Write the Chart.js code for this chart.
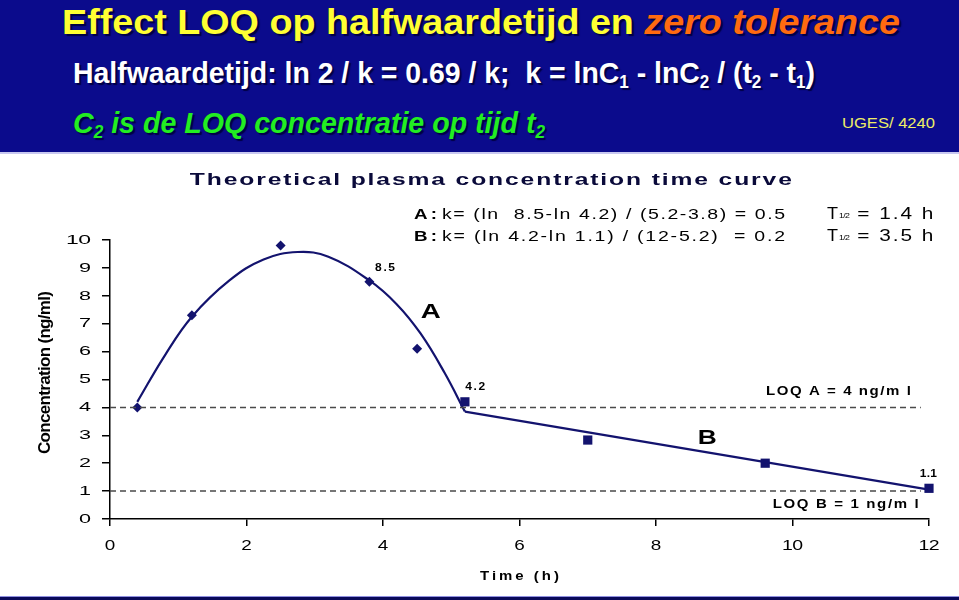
<!DOCTYPE html>
<html>
<head>
<meta charset="utf-8">
<script src="https://cdn.jsdelivr.net/npm/chart.js@4.4.0/dist/chart.umd.min.js"></script>
<style>
  html, body { margin:0; padding:0; background:#ffffff; }
  #wrap { position:relative; width:959px; height:600px; overflow:hidden; background:#fff; }
  #chart { position:absolute; left:0; top:0; }
  #band { position:absolute; left:0; top:0; width:959px; height:152px; background:#0b0b8c; border-bottom:2px solid #c8c8f0; z-index:2; }
  .t { position:absolute; white-space:nowrap; font-family:"Liberation Sans", Arial, sans-serif; font-weight:bold; line-height:1; z-index:3; transform-origin:0 0; }
  #l1 { color:#ffff33; font-size:35px; text-shadow:2px 2px 1px #000044; }
  #l1 i { color:#ff6a10; }
  #l2 { color:#ffffff; font-size:30px; text-shadow:2px 2px 1px #000044; }
  #l3 { color:#22ee22; font-size:30px; font-style:italic; text-shadow:2px 2px 1px #000044; }
  #ug { color:#eeee66; font-size:15px; font-weight:normal; }
  .t sub { font-size:0.6em; vertical-align:-0.3em; line-height:0; }
  #bot { position:absolute; left:0; top:596px; width:959px; height:4px; background:#0a0a5a; border-top:1px solid #9090e0; z-index:2; }
</style>
</head>
<body>
<div id="wrap">
  <canvas id="chart" width="959" height="600"></canvas>
  <div id="band"></div>
  <div class="t" id="l1">Effect LOQ op halfwaardetijd en <i>zero tolerance</i></div>
  <div class="t" id="l2">Halfwaardetijd: ln 2 / k = 0.69 / k;&nbsp; k = lnC<sub>1</sub> - lnC<sub>2</sub> / (t<sub>2</sub> - t<sub>1</sub>)</div>
  <div class="t" id="l3">C<sub>2</sub> is de LOQ concentratie op tijd t<sub>2</sub></div>
  <div class="t" id="ug">UGES/ 4240</div>
  <div id="bot"></div>
</div>
<script>
// ---- data ----
const timeTicks = [0, 2, 4, 6, 8, 10, 12];
const concTicks = [0, 1, 2, 3, 4, 5, 6, 7, 8, 9, 10];

const pointsA_t = [0.4, 1.2, 2.5, 3.8, 4.5];
const pointsA_c = [4.0, 7.3, 9.8, 8.5, 6.1];

const pointsB_t = [5.2, 7.0, 9.6, 12.0];
const pointsB_c = [4.2, 2.83, 2.0, 1.1];

const curveA_t = [0.4, 0.8, 1.2, 1.75, 2.25, 2.75, 3.2, 3.8, 4.2, 4.55, 4.9, 5.2];
const curveA_c = [4.2, 5.85, 7.25, 8.55, 9.3, 9.57, 9.4, 8.55, 7.7, 6.65, 5.25, 3.85];

const lineB_t = [5.2, 12.0];
const lineB_c = [3.85, 1.05];

const loqA = 4;
const loqB = 1;
const loqEnd = 11.88;

// ---- header fitting (layout only) ----
function place(id, left, baseline, width) {
  const el = document.getElementById(id);
  const fs = parseFloat(getComputedStyle(el).fontSize);
  el.style.left = left + 'px';
  el.style.top = (baseline - 0.8465 * fs) + 'px';
  const w = el.getBoundingClientRect().width;
  el.style.transform = 'scaleX(' + (width / w) + ')';
}
place('l1', 62, 33.5, 838);
place('l2', 73, 83.5, 742);
place('l3', 73, 133.5, 472);
place('ug', 842, 128, 93);

// ---- chart ----
const navy = '#13136e';
const zip = (a, b) => a.map((v, i) => ({ x: v, y: b[i] }));

function drawFit(ctx, text, x, y, width, font, align, sx) {
  ctx.save();
  ctx.font = font;
  ctx.letterSpacing = '0px';
  const nat = ctx.measureText(text).width;
  const n = text.length;
  let ls = n > 1 ? (width / sx - nat) / (n - 1) : 0;
  if (n === 1) sx = width / nat;
  ctx.translate(x, y);
  ctx.scale(sx, 1);
  ctx.letterSpacing = ls + 'px';
  ctx.textBaseline = 'middle';
  ctx.textAlign = 'left';
  const total = (nat + ls * (n - 1));
  let ox = 0;
  if (align === 'center') ox = -total / 2;
  if (align === 'right') ox = -total;
  ctx.fillText(text, ox, 0);
  ctx.restore();
}

const F = '"Liberation Sans", Arial, sans-serif';
const textPlugin = {
  id: 'texts',
  afterDraw(chart) {
    const ctx = chart.ctx;
    const xs = chart.scales.x, ys = chart.scales.y;
    const X = v => xs.getPixelForValue(v), Y = v => ys.getPixelForValue(v);
    ctx.save();
    ctx.fillStyle = '#000';
    // y tick labels
    ys.ticks.forEach(t => {
      const s = String(t.value);
      drawFit(ctx, s, 91, Y(t.value), s.length === 1 ? 12 : 25, '13.5px ' + F, 'right', 1.7);
    });
    // x tick labels
    xs.ticks.forEach(t => {
      const s = String(t.value);
      drawFit(ctx, s, X(t.value), 546, s.length === 1 ? 10.5 : 21, '15px ' + F, 'center', 1.3);
    });
    // chart title
    ctx.fillStyle = '#0a0a3a';
    drawFit(ctx, 'Theoretical plasma concentration time curve', X(5.58), Y(12.15), 602, 'bold 17px ' + F, 'center', 1.45);
    ctx.fillStyle = '#000';
    // formulas
    const rowA = Y(10.9), rowB = Y(10.13);
    drawFit(ctx, 'A:', X(4.454), rowA, 23, 'bold 15px ' + F, 'left', 1.25);
    drawFit(ctx, 'k= (ln  8.5-ln 4.2) / (5.2-3.8) = 0.5', X(4.865), rowA, 343, '15px ' + F, 'left', 1.3);
    drawFit(ctx, 'B:', X(4.454), rowB, 23, 'bold 15px ' + F, 'left', 1.25);
    drawFit(ctx, 'k= (ln 4.2-ln 1.1) / (12-5.2)  = 0.2', X(4.865), rowB, 343, '15px ' + F, 'left', 1.3);
    [[rowA, '= 1.4 h'], [rowB, '= 3.5 h']].forEach(([ry, s]) => {
      drawFit(ctx, 'T', X(10.505), ry, 11, '16px ' + F, 'left', 1.2);
      drawFit(ctx, '1/2', X(10.68), ry + 1, 11, '8px ' + F, 'left', 1.1);
      drawFit(ctx, s, X(10.95), ry, 76, '16px ' + F, 'left', 1.3);
    });
    // value labels
    drawFit(ctx, '8.5', X(4.03), Y(9.0), 20, 'bold 10px ' + F, 'center', 1.2);
    drawFit(ctx, '4.2', X(5.35), Y(4.74), 20, 'bold 10px ' + F, 'center', 1.2);
    drawFit(ctx, '1.1', X(11.99), Y(1.61), 17, 'bold 10px ' + F, 'center', 1.2);
    // phase letters
    drawFit(ctx, 'A', X(4.70), Y(7.42), 20, 'bold 21px ' + F, 'center', 1.25);
    drawFit(ctx, 'B', X(8.75), Y(2.90), 19, 'bold 21px ' + F, 'center', 1.25);
    // LOQ labels
    drawFit(ctx, 'LOQ A = 4 ng/m l', X(9.61), Y(4.55), 145, 'bold 12px ' + F, 'left', 1.25);
    drawFit(ctx, 'LOQ B = 1 ng/m l', X(9.71), Y(0.50), 146, 'bold 12px ' + F, 'left', 1.25);
    // axis titles
    drawFit(ctx, 'Time (h)', X(6.0), 576, 79, 'bold 13px ' + F, 'center', 1.15);
    ctx.save();
    ctx.translate(45, Y(5.25));
    ctx.rotate(-Math.PI / 2);
    drawFit(ctx, 'Concentration (ng/ml)', 0, 0, 163, 'bold 17px "Liberation Sans Narrow", ' + F, 'center', 1.0);
    ctx.restore();
    ctx.restore();
  }
};

new Chart(document.getElementById('chart'), {
  type: 'scatter',
  data: {
    datasets: [
      { label: 'LOQ A', data: [{ x: 0, y: loqA }, { x: loqEnd, y: loqA }], showLine: true, pointRadius: 0,
        borderColor: '#4a4a4a', borderWidth: 1.5, borderDash: [6, 4] },
      { label: 'LOQ B', data: [{ x: 0, y: loqB }, { x: loqEnd, y: loqB }], showLine: true, pointRadius: 0,
        borderColor: '#4a4a4a', borderWidth: 1.5, borderDash: [6, 4] },
      { label: 'Curve A', data: zip(curveA_t, curveA_c), showLine: true, pointRadius: 0,
        borderColor: navy, borderWidth: 2.2, tension: 0.4 },
      { label: 'Line B', data: zip(lineB_t, lineB_c), showLine: true, pointRadius: 0,
        borderColor: navy, borderWidth: 2.2, tension: 0 },
      { label: 'A', data: zip(pointsA_t, pointsA_c), showLine: false, pointStyle: 'rectRot', pointRadius: 5,
        backgroundColor: navy, borderColor: navy, borderWidth: 0 },
      { label: 'B', data: zip(pointsB_t, pointsB_c), showLine: false, pointStyle: 'rect', pointRadius: 6.5,
        backgroundColor: navy, borderColor: navy, borderWidth: 0 }
    ]
  },
  options: {
    responsive: false,
    animation: false,
    devicePixelRatio: 1,
    clip: false,
    layout: { padding: { left: 0, top: 240, right: 30, bottom: 0 } },
    plugins: { legend: { display: false }, tooltip: { enabled: false }, title: { display: false } },
    scales: {
      x: {
        type: 'linear', min: 0, max: 12,
        afterFit: s => { s.height = 81; },
        afterBuildTicks: s => { s.ticks = timeTicks.map(v => ({ value: v })); },
        ticks: { display: false },
        grid: { drawOnChartArea: false, drawTicks: true, tickLength: 7, color: '#000', lineWidth: 1.5 },
        border: { color: '#000', width: 1.5 }
      },
      y: {
        type: 'linear', min: 0, max: 10,
        afterFit: s => { s.width = 110; },
        afterBuildTicks: s => { s.ticks = concTicks.map(v => ({ value: v })); },
        ticks: { display: false },
        grid: { drawOnChartArea: false, drawTicks: true, tickLength: 8, color: '#000', lineWidth: 1.5 },
        border: { color: '#000', width: 1.5 }
      }
    }
  },
  plugins: [textPlugin]
});
</script>
</body>
</html>
